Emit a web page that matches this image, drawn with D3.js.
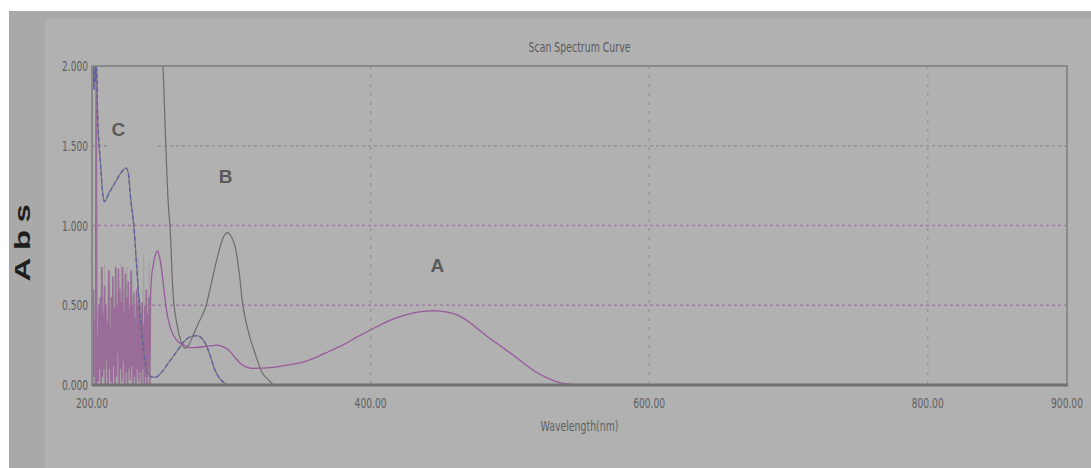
<!DOCTYPE html>
<html><head><meta charset="utf-8">
<script src="https://cdn.jsdelivr.net/npm/d3@7"></script>
<style>body{margin:0;background:#fff;overflow:hidden}</style>
</head><body><svg id="c" width="1091" height="468"></svg>
<script>
// ---------- data ----------
const title = "Scan Spectrum Curve";
const xTitle = "Wavelength(nm)";
const yTitle = "Abs";
const xTicks = [200, 400, 600, 800, 900];
const xTickLabels = ["200.00", "400.00", "600.00", "800.00", "900.00"];
const yTicks = [0, 0.5, 1, 1.5, 2];
const yTickLabels = ["0.000", "0.500", "1.000", "1.500", "2.000"];
const xGrid = [400, 600, 800];
const yGrid = [0.5, 1, 1.5];
const seriesNames = ["A", "B", "C"];

// Curve A: noisy region (200.0 .. 241.5 nm every 0.5 nm)
const aNoiseStart = 200, aNoiseStep = 0.5;
const aNoise = [0.45,0.0,0.6,0.05,0.4,0.0,2.1,0.0,0.3,0.02,0.5,0.1,
  0.55,0.0,0.74,0.05,0.45,0.1,0.62,0.0,0.5,0.15,0.4,0.0,0.72,0.1,0.35,0.02,0.55,0.0,
  0.68,0.12,0.48,0.0,0.74,0.05,0.5,0.2,0.73,0.0,0.6,0.1,0.52,0.02,0.74,0.15,0.45,0.0,0.7,0.08,
  0.55,0.0,0.65,0.1,0.48,0.03,0.72,0.12,0.5,0.0,0.58,0.05,0.42,0.0,0.6,0.1,0.5,0.02,0.55,0.08,
  0.45,0.0,0.52,0.1,0.38,0.0,0.5,0.05,0.6,0.0,0.45,0.1,0.55,0.0];
// light grey spikes among the noise (206 .. 241 nm every 1 nm)
const gNoiseStart = 206, gNoiseStep = 1;
const gNoise = [0.0,0.7,0.0,0.76,0.0,0.3,0.0,0.72,0.0,0.5,0.0,0.75,0.0,0.4,0.0,0.76,0.0,0.6,
  0.0,0.74,0.0,0.35,0.0,0.7,0.0,0.5,0.0,0.8,0.0,0.45,0.0,0.82,0.0,0.6,0.0,0.78];
// Curve A: smooth part
const aNm  = [242,243,244,245,247,249,251,253,255,258,262,266,270,275,280,285,290,294,298,302,306,310,314,318,
  330,340,350,360,370,380,390,400,410,420,430,440,448,455,462,470,478,486,494,502,508,514,520,527,534,541,550];
const aAbs = [0.55,0.7,0.75,0.8,0.84,0.78,0.65,0.5,0.4,0.32,0.27,0.25,0.235,0.235,0.24,0.245,0.25,0.24,0.22,0.18,0.14,0.115,0.105,0.105,
  0.11,0.125,0.14,0.17,0.21,0.25,0.30,0.345,0.39,0.425,0.45,0.463,0.465,0.457,0.44,0.40,0.345,0.29,0.24,0.19,0.15,0.11,0.075,0.043,0.02,0.007,0.0];

// Curve B
const bNm  = [250,251,253,255,256,258,261,264,267,270,272,276,282,286,290,294,297,300,303,306,308,311,314,317,322,327,331,335];
const bAbs = [2.2,2.0,1.5,1.1,1.0,0.6,0.38,0.27,0.23,0.26,0.3,0.38,0.5,0.65,0.8,0.92,0.955,0.93,0.86,0.68,0.52,0.38,0.28,0.2,0.08,0.03,0.0,0.0];

// Curve C
const cNm  = [200,200.5,201,201.5,202,202.5,203,203.5,204,206,208,209,212,216,220,224.5,226,228,230,232,234,236,238,240,243,246,250,255,260,265,270,275,278,282,285,288,291,294,298,302];
const cAbs = [2.0,1.88,2.0,1.85,2.0,1.9,2.0,1.95,1.7,1.4,1.18,1.15,1.2,1.26,1.32,1.36,1.33,1.15,1.0,0.75,0.5,0.3,0.15,0.08,0.05,0.05,0.08,0.14,0.2,0.26,0.3,0.31,0.3,0.25,0.18,0.1,0.05,0.02,0.0,0.0];

// annotation positions (data coords)
const labelNm  = [448, 296, 219];
const labelAbs = [0.75, 1.31, 1.6];

// ---------- chart ----------
const svg = d3.select("#c");
const W = 1091, H = 468;
const m = {left: 92, right: 1067, top: 66, bottom: 385};
const x = d3.scaleLinear().domain([200, 900]).range([m.left, m.right]);
const y = d3.scaleLinear().domain([0, 2]).range([m.bottom, m.top]);

// backgrounds
svg.append("rect").attr("x",0).attr("y",0).attr("width",W).attr("height",H).attr("fill","#ffffff");
svg.append("rect").attr("x",9).attr("y",11).attr("width",W-9).attr("height",H-11).attr("fill","#a9a9a9");
svg.append("rect").attr("x",45).attr("y",19).attr("width",W-45).attr("height",H-19).attr("fill","#b1b1b1");

// clip
svg.append("clipPath").attr("id","clip").append("rect")
  .attr("x",m.left).attr("y",m.top).attr("width",m.right-m.left).attr("height",m.bottom-m.top);

// grid
const g = svg.append("g");
g.selectAll("line.vg").data(xGrid).enter().append("line")
  .attr("x1",d=>x(d)).attr("x2",d=>x(d)).attr("y1",m.top).attr("y2",m.bottom)
  .attr("stroke","#959595").attr("stroke-width",1.5).attr("stroke-dasharray","3,6");
g.selectAll("line.hg").data(yGrid).enter().append("line")
  .attr("x1",m.left).attr("x2",m.right).attr("y1",d=>y(d)).attr("y2",d=>y(d))
  .attr("stroke",d=>d===1.5?"#929292":"#9b7f9f").attr("stroke-width",1.5).attr("stroke-dasharray","3,3");

// annotation background (hides grid behind C label)
svg.append("rect").attr("x",x(213)).attr("y",y(1.72)).attr("width",x(246)-x(213)).attr("height",y(1.42)-y(1.72)).attr("fill","#b1b1b1");

// curves
const plot = svg.append("g").attr("clip-path","url(#clip)");
const line = d3.line().x(d=>x(d[0])).y(d=>y(d[1]));
const smooth = d3.line().x(d=>x(d[0])).y(d=>y(d[1])).curve(d3.curveMonotoneX);
const soft = d3.line().x(d=>x(d[0])).y(d=>y(d[1])).curve(d3.curveCatmullRom.alpha(0.5));

const aNoiseData = aNoise.map((v,i)=>[aNoiseStart + i*aNoiseStep, v]);
const gNoiseData = gNoise.map((v,i)=>[gNoiseStart + i*gNoiseStep, v]);
const aData = aNm.map((n,i)=>[n,aAbs[i]]);
const bData = bNm.map((n,i)=>[n,bAbs[i]]);
const cData = cNm.map((n,i)=>[n,cAbs[i]]);

plot.append("path").datum(gNoiseData).attr("d",line)
  .attr("fill","none").attr("stroke","#a3a3a3").attr("stroke-width",1.2);
plot.append("path").datum(aNoiseData.concat([aData[0]])).attr("d",line)
  .attr("fill","none").attr("stroke","#9a6d98").attr("stroke-width",1.6);
plot.append("path").datum(bData).attr("d",smooth)
  .attr("fill","none").attr("stroke","#6c6c6c").attr("stroke-width",1.2);
plot.append("path").datum(cData).attr("d",smooth)
  .attr("fill","none").attr("stroke","#7a7a7a").attr("stroke-width",1.3);
plot.append("path").datum(cData).attr("d",smooth)
  .attr("fill","none").attr("stroke","#5f5fa8").attr("stroke-width",1.3).attr("stroke-dasharray","4,3");
plot.append("path").datum(aData).attr("d",soft)
  .attr("fill","none").attr("stroke","#985a9c").attr("stroke-width",1.3);

// frame
svg.append("rect").attr("x",m.left).attr("y",m.top).attr("width",m.right-m.left).attr("height",m.bottom-m.top)
  .attr("fill","none").attr("stroke","#898989").attr("stroke-width",2);
svg.append("line").attr("x1",m.left).attr("x2",m.right+1).attr("y1",m.bottom).attr("y2",m.bottom)
  .attr("stroke","#717171").attr("stroke-width",3);

// narrow text helper: draws text at (px,py) horizontally squeezed to a target width
const tickFont = "'DejaVu Sans Condensed','Liberation Sans Narrow',sans-serif";
function narrowText(parent, str, px, py, anchor, targetW, size, color) {
  const gg = parent.append("g");
  const t = gg.append("text").attr("x",0).attr("y",0).attr("dy","0.35em")
    .attr("text-anchor",anchor).attr("font-family",tickFont).attr("font-size",size)
    .attr("fill",color).text(str);
  const len = t.node().getComputedTextLength();
  const s = len > 0 ? targetW/len : 1;
  gg.attr("transform",`translate(${px},${py}) scale(${s},1)`);
  return gg;
}

const axG = svg.append("g");
yTicks.forEach((d,i)=>narrowText(axG, yTickLabels[i], m.left-4, y(d), "end", 26, 14.5, "#5e5e5e"));
xTicks.forEach((d,i)=>narrowText(axG, xTickLabels[i], x(d), m.bottom+18, "middle", 32, 14.5, "#5e5e5e"));

// titles
narrowText(svg, title, (m.left+m.right)/2, 47, "middle", 102, 14.5, "#5a5a5a");
narrowText(svg, xTitle, (m.left+m.right)/2, 426, "middle", 78, 14.5, "#5e5e5e");
svg.append("text").attr("transform","translate(30,239) rotate(-90) scale(1.5,1)")
  .attr("text-anchor","middle").attr("font-family","'Liberation Sans',Arial,sans-serif")
  .attr("font-weight","bold").attr("font-size",22).attr("letter-spacing",5).attr("fill","#1e1e1e").text(yTitle);

// series labels
svg.append("g").selectAll("text").data(seriesNames).enter().append("text")
  .attr("x",(d,i)=>x(labelNm[i])).attr("y",(d,i)=>y(labelAbs[i])).attr("dy","0.35em").attr("text-anchor","middle")
  .attr("font-family","'Liberation Sans',Arial,sans-serif").attr("font-weight","bold").attr("font-size",19)
  .attr("fill","#5a5a5a").text(d=>d);
</script></body></html>
